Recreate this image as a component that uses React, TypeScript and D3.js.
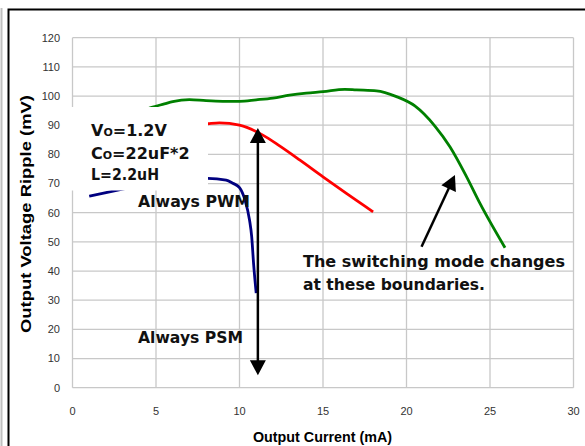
import * as d3 from "d3";

// Output current (mA) vs output voltage ripple (mV)
const greenX = [4.0, 4.8, 5.5, 6, 7, 8, 9, 10, 11, 12, 13, 14, 15, 16.3, 17, 18.2, 19.4, 20.5, 21.7, 22.6, 23.6, 24.4, 25.9];
const greenY = [94.5, 96.2, 97.3, 98.1, 98.8, 98.4, 98.2, 98.2, 98.7, 99.3, 100.3, 101.0, 101.5, 102.3, 102.1, 101.8, 99.8, 96.6, 89.7, 82.6, 72.3, 63.2, 48];

const redX = [7.5, 8.1, 8.8, 10, 11.4, 12.4, 13.6, 15, 16.4, 18];
const redY = [90.2, 90.5, 90.8, 90.0, 86.6, 82.9, 78.1, 72.3, 66.6, 60.3];

const blueX = [1.0, 2.5, 4, 6, 8.1, 9.2, 9.6, 10.0, 10.33, 10.6, 10.73, 10.85, 11.0];
const blueY = [65.7, 67.5, 69.2, 70.8, 71.8, 71.2, 70.1, 68.6, 64.3, 57.5, 51.8, 42, 32.4];

const xTicks = [0, 5, 10, 15, 20, 25, 30];
const yTicks = [0, 10, 20, 30, 40, 50, 60, 70, 80, 90, 100, 110, 120];

const series = [
  { xs: greenX, ys: greenY, color: "#008000" },
  { xs: redX, ys: redY, color: "#ff0000" },
  { xs: blueX, ys: blueY, color: "#000080" },
];

const W = 585;
const H = 446;
const plot = { left: 72.5, right: 573.5, top: 37.7, bottom: 387.7 };

const annFont = "'DejaVu Sans', sans-serif";
const axisFont = "'Liberation Sans', Arial, sans-serif";

export default function App() {
  const x = d3.scaleLinear().domain([0, 30]).range([plot.left, plot.right]);
  const y = d3.scaleLinear().domain([0, 120]).range([plot.bottom, plot.top]);

  const line = d3
    .line<[number, number]>()
    .x((d) => x(d[0]))
    .y((d) => y(d[1]))
    .curve(d3.curveMonotoneX);

  // vertical boundary arrow (data units)
  const vx = x(11.1);
  const vTop = y(89);
  const vBot = y(4.3);
  // diagonal arrow
  const d0 = [x(20.9), y(48.3)];
  const d1 = [x(22.9), y(72.9)];
  const ang = Math.atan2(d1[1] - d0[1], d1[0] - d0[0]);
  const head = (tx: number, ty: number, a: number, len = 15, half = 8) => {
    const bx = tx - len * Math.cos(a);
    const by = ty - len * Math.sin(a);
    const px = -Math.sin(a) * half;
    const py = Math.cos(a) * half;
    return `M${tx},${ty}L${bx + px},${by + py}L${bx - px},${by - py}Z`;
  };

  return (
    <svg
      width={W}
      height={H}
      style={{ position: "absolute", left: 0, top: 0, background: "#fff" }}
    >
      {/* outer frame */}
      <line x1={1.5} y1={8} x2={1.5} y2={H} stroke="#c0c0c0" strokeWidth={2} />
      <path d={`M8.5,${H}V9.5H${W}`} fill="none" stroke="#000" strokeWidth={2} />

      {/* grid */}
      {yTicks.map((t) => (
        <line key={"gy" + t} x1={plot.left} x2={plot.right} y1={y(t)} y2={y(t)} stroke="#c8c8c8" strokeWidth={1.3} />
      ))}
      {xTicks.map((t) => (
        <line key={"gx" + t} x1={x(t)} x2={x(t)} y1={plot.top} y2={plot.bottom} stroke="#c8c8c8" strokeWidth={1.3} />
      ))}

      {/* tick labels */}
      {yTicks.map((t) => (
        <text key={"ly" + t} x={60} y={y(t)} dy="0.35em" textAnchor="end" fontFamily={axisFont} fontSize={11} fill="#333">
          {t}
        </text>
      ))}
      {xTicks.map((t) => (
        <text key={"lx" + t} x={x(t)} y={415} textAnchor="middle" fontFamily={axisFont} fontSize={11} fill="#333">
          {t}
        </text>
      ))}

      {/* axis titles */}
      <text x={322.5} y={442} textAnchor="middle" fontFamily={axisFont} fontSize={14} fontWeight="bold" textLength={139} lengthAdjust="spacingAndGlyphs">
        Output Current (mA)
      </text>
      <text transform="translate(31,214) rotate(-90)" textAnchor="middle" fontFamily={axisFont} fontSize={14} fontWeight="bold" textLength={238} lengthAdjust="spacingAndGlyphs">
        Output Voltage Ripple (mV)
      </text>

      {/* series */}
      {series.map((s, i) => (
        <path
          key={i}
          d={line(s.xs.map((v, j) => [v, s.ys[j]] as [number, number])) || ""}
          fill="none"
          stroke={s.color}
          strokeWidth={2.8}
        />
      ))}

      {/* condition box */}
      <rect x={65} y={107} width={143} height={83.5} fill="#fff" />
      <g fontFamily={annFont} fontWeight="bold" fontSize={16} fill="#111">
        <text x={91} y={136}>
          V<tspan fontSize={11}>O</tspan>=1.2V
        </text>
        <text x={91} y={158.7}>
          C<tspan fontSize={11}>O</tspan>=22uF*2
        </text>
        <text x={91} y={180} textLength={68} lengthAdjust="spacingAndGlyphs">
          L=2.2uH
        </text>
      </g>

      {/* arrows */}
      <line x1={vx} x2={vx} y1={vTop + 12} y2={vBot - 12} stroke="#000" strokeWidth={2.5} />
      <path d={head(vx, vTop, -Math.PI / 2)} fill="#000" />
      <path d={head(vx, vBot, Math.PI / 2)} fill="#000" />
      <line x1={d0[0]} y1={d0[1]} x2={d1[0] - 12 * Math.cos(ang)} y2={d1[1] - 12 * Math.sin(ang)} stroke="#000" strokeWidth={2.5} />
      <path d={head(d1[0], d1[1], ang)} fill="#000" />

      {/* annotations */}
      <g fontFamily={annFont} fontWeight="bold" fontSize={16} fill="#111">
        <text x={138} y={206.5} textLength={112} lengthAdjust="spacingAndGlyphs">Always PWM</text>
        <text x={138} y={343} textLength={105} lengthAdjust="spacingAndGlyphs">Always PSM</text>
        <text x={303} y={266.7} textLength={262} lengthAdjust="spacingAndGlyphs">The switching mode changes</text>
        <text x={303} y={290} textLength={182} lengthAdjust="spacingAndGlyphs">at these boundaries.</text>
      </g>
    </svg>
  );
}
